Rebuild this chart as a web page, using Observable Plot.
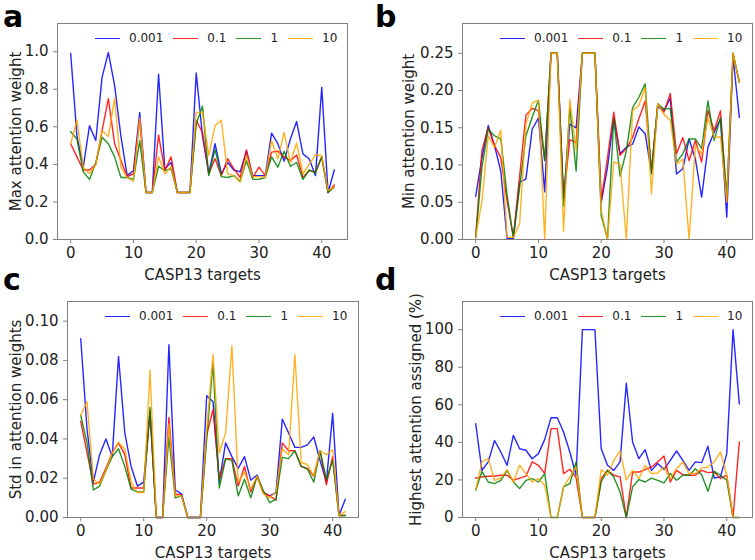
<!DOCTYPE html>
<html>
<head>
<meta charset="utf-8">
<script src="https://cdn.jsdelivr.net/npm/d3@7"></script>
<script src="https://cdn.jsdelivr.net/npm/@observablehq/plot@0.6"></script>
<style>
  body { margin: 0; background: #fff; }
  #fig { position: relative; width: 755px; height: 560px; background: #fff; overflow: hidden;
         font-family: "DejaVu Sans", sans-serif; }
  .panel { position: absolute; }
  .letter { position: absolute; font-weight: bold; font-size: 30px; line-height: 1; color: #000; }
  .legend { position: absolute; display: flex; align-items: center; height: 16px;
            font-size: 12px; color: #222; white-space: nowrap; }
  .legend .sw { display: inline-block; width: 25px; height: 0; border-top: 1.5px solid; margin-right: 9px; opacity: 0.85; }
  .legend .lab { margin-right: 10px; }
</style>
</head>
<body>
<div id="fig"></div>
<script>
// ---- categories / ticks ----
const targets = [0,1,2,3,4,5,6,7,8,9,10,11,12,13,14,15,16,17,18,19,20,21,22,23,24,25,26,27,28,29,30,31,32,33,34,35,36,37,38,39,40,41,42];
const xTicks = [0, 10, 20, 30, 40];
const seriesNames = ["0.001", "0.1", "1", "10"];
const seriesColors = ["blue", "red", "green", "orange"];

// ---- a: Max attention weight ----
const maxW_0001 = [0.99,0.55,0.385,0.606,0.527,0.863,0.996,0.82,0.55,0.34,0.367,0.677,0.25,0.25,0.88,0.376,0.41,0.25,0.25,0.25,0.887,0.55,0.35,0.51,0.35,0.41,0.37,0.36,0.47,0.34,0.34,0.34,0.566,0.51,0.417,0.535,0.628,0.456,0.43,0.34,0.81,0.25,0.37];
const maxW_01 = [0.51,0.44,0.37,0.37,0.40,0.58,0.75,0.51,0.42,0.335,0.35,0.64,0.25,0.25,0.557,0.367,0.44,0.25,0.25,0.25,0.633,0.57,0.35,0.43,0.34,0.43,0.376,0.33,0.477,0.33,0.385,0.34,0.465,0.47,0.44,0.42,0.45,0.33,0.367,0.36,0.44,0.25,0.29];
const maxW_1 = [0.574,0.535,0.36,0.32,0.41,0.544,0.51,0.44,0.33,0.33,0.32,0.527,0.25,0.25,0.39,0.367,0.376,0.25,0.25,0.25,0.615,0.71,0.34,0.48,0.335,0.33,0.34,0.31,0.42,0.32,0.32,0.33,0.44,0.385,0.47,0.39,0.41,0.32,0.37,0.355,0.44,0.25,0.28];
const maxW_10 = [0.51,0.636,0.385,0.35,0.40,0.58,0.548,0.753,0.385,0.33,0.31,0.647,0.25,0.25,0.44,0.35,0.39,0.25,0.25,0.25,0.677,0.677,0.447,0.606,0.636,0.35,0.34,0.305,0.447,0.335,0.335,0.33,0.527,0.43,0.57,0.41,0.514,0.35,0.40,0.45,0.447,0.26,0.28];

// ---- b: Min attention weight ----
const minW_0001 = [0.058,0.11,0.153,0.126,0.092,0.001,0.001,0.077,0.081,0.148,0.163,0.064,0.25,0.25,0.055,0.155,0.15,0.25,0.25,0.25,0.05,0.097,0.164,0.115,0.124,0.128,0.151,0.142,0.09,0.178,0.173,0.19,0.088,0.095,0.135,0.108,0.057,0.124,0.144,0.162,0.03,0.245,0.164];
const minW_01 = [0.003,0.12,0.15,0.126,0.11,0.052,0.003,0.085,0.167,0.176,0.173,0.106,0.25,0.25,0.055,0.134,0.13,0.25,0.25,0.25,0.052,0.11,0.171,0.113,0.122,0.137,0.162,0.186,0.092,0.182,0.171,0.196,0.115,0.137,0.106,0.133,0.104,0.173,0.146,0.173,0.052,0.25,0.211];
const minW_1 = [0.002,0.097,0.148,0.139,0.135,0.06,0.002,0.07,0.139,0.164,0.187,0.106,0.25,0.25,0.045,0.178,0.092,0.25,0.25,0.25,0.032,0.001,0.162,0.085,0.119,0.177,0.191,0.209,0.088,0.182,0.175,0.176,0.104,0.115,0.135,0.135,0.122,0.186,0.133,0.164,0.057,0.25,0.211];
const minW_10 = [0.003,0.052,0.139,0.124,0.147,0.003,0.003,0.021,0.155,0.183,0.187,0.0,0.25,0.25,0.011,0.188,0.12,0.25,0.25,0.25,0.039,0.0,0.104,0.101,0.0,0.173,0.18,0.204,0.061,0.182,0.168,0.16,0.101,0.108,0.0,0.126,0.115,0.164,0.137,0.138,0.05,0.25,0.211];

// ---- c: Std in attention weights ----
const stdW_0001 = [0.091,0.045,0.018,0.032,0.04,0.031,0.082,0.043,0.026,0.016,0.018,0.054,0,0,0.088,0.014,0.012,0,0,0,0.062,0.059,0.018,0.038,0.031,0.025,0.031,0.019,0.0216,0.0127,0.011,0.0127,0.050,0.043,0.0357,0.0357,0.037,0.041,0.029,0.018,0.053,0.001,0.0093];
const stdW_01 = [0.049,0.033,0.017,0.018,0.025,0.033,0.038,0.032,0.015,0.015,0.015,0.054,0,0,0.051,0.012,0.0115,0,0,0,0.042,0.055,0.0195,0.03,0.03,0.016,0.026,0.013,0.021,0.0127,0.011,0.0088,0.038,0.034,0.034,0.026,0.025,0.021,0.034,0.0167,0.031,0.001,0.001];
const stdW_1 = [0.052,0.038,0.014,0.016,0.024,0.031,0.035,0.026,0.0145,0.013,0.013,0.056,0,0,0.041,0.01,0.011,0,0,0,0.04,0.079,0.015,0.03,0.029,0.011,0.0195,0.010,0.021,0.0136,0.0076,0.0093,0.0306,0.030,0.034,0.026,0.0246,0.018,0.034,0.0195,0.029,0.001,0.001];
const stdW_10 = [0.052,0.059,0.0195,0.017,0.024,0.033,0.038,0.035,0.018,0.0127,0.0127,0.075,0,0,0.0476,0.011,0.011,0,0,0,0.045,0.083,0.033,0.043,0.0875,0.018,0.023,0.0145,0.021,0.012,0.010,0.013,0.035,0.032,0.083,0.028,0.027,0.021,0.034,0.032,0.0345,0.001,0.003];

// ---- d: Highest attention assigned (%) ----
const top_0001 = [49.9,25.1,29.6,41,34.9,27.8,43.7,36.6,35.8,31.3,34,41.6,53.1,53.1,45.5,34.9,22.5,100,100,100,36.6,27.8,25.1,29.6,71.5,40.2,31.3,36.1,25.1,28.7,25.5,30.4,35.4,30.4,25.1,29.6,29.2,37.9,21,21.6,34,100,60.5];
const top_01 = [21,21.6,22,22.1,22.5,22.5,19.8,21,22,29.6,27.8,23.4,47.3,47.3,23.4,25.7,21.2,0,0,0,20.7,25.1,22.5,21.6,0,24.2,24.2,25.5,26.9,29.6,32.7,18.9,25.1,22.8,22.5,22.5,25.1,23.9,24.2,20.7,22.5,0,40.2];
const top_1 = [14.5,24.6,18.9,18,19.8,25.1,18.9,15.4,19.8,20.7,18.9,23.4,0,0,16.3,18,29.6,0,0,0,18.9,25.1,21.6,13.6,0,16.3,20.2,18.9,21,19.8,18.4,23.4,19.8,22.5,22.5,26,22.8,14,24.6,22.5,19.8,0,0];
const top_10 = [15,29.6,31.3,19.8,21,25.5,18.9,27.8,23.4,18.9,20.7,17.2,0,0,16.3,21.6,26.9,0,0,0,25.5,22.5,30.4,35.4,20,25.1,20.7,27.8,23.4,23.7,26.9,20.7,26,29.6,23.4,23.4,26.4,26.9,29.6,34.9,22.5,0,0];

const yTicksA = [0, 0.2, 0.4, 0.6, 0.8, 1.0];
const yTicksB = [0, 0.05, 0.10, 0.15, 0.20, 0.25];
const yTicksC = [0, 0.02, 0.04, 0.06, 0.08, 0.10];
const yTicksD = [0, 20, 40, 60, 80, 100];

const panels = [
  {letter: "a", series: [maxW_0001, maxW_01, maxW_1, maxW_10], yDomain: [0, 1.15], yTicks: yTicksA, yFormat: ".1f",
   yLabel: "Max attention weight", left: 0, top: 0, w: 377, h: 280, ml: 57, mr: 30, mt: 23, mb: 41, lo: 47,
   letterX: 3, letterY: 2},
  {letter: "b", series: [minW_0001, minW_01, minW_1, minW_10], yDomain: [0, 0.29], yTicks: yTicksB, yFormat: ".2f",
   yLabel: "Min attention weight", left: 377, top: 0, w: 378, h: 280, ml: 85, mr: 3, mt: 23, mb: 41, lo: 59,
   letterX: 375, letterY: 2},
  {letter: "c", series: [stdW_0001, stdW_01, stdW_1, stdW_10], yDomain: [0, 0.11], yTicks: yTicksC, yFormat: ".2f",
   yLabel: "Std in attention weights", left: 0, top: 280, w: 377, h: 280, ml: 67, mr: 19, mt: 21, mb: 43, lo: 57,
   letterX: 3, letterY: 265},
  {letter: "d", series: [top_0001, top_01, top_1, top_10], yDomain: [0, 115], yTicks: yTicksD, yFormat: "d",
   yLabel: "Highest attention assigned (%)", left: 377, top: 280, w: 378, h: 280, ml: 85, mr: 3, mt: 21, mb: 43, lo: 52,
   letterX: 375, letterY: 265}
];

const fig = document.getElementById("fig");

for (const p of panels) {
  const rows = [];
  p.series.forEach((vals, k) => vals.forEach((v, i) => rows.push({target: targets[i], value: v, series: seriesNames[k]})));
  const svg = Plot.plot({
    width: p.w, height: p.h,
    marginLeft: p.ml, marginRight: p.mr, marginTop: p.mt, marginBottom: p.mb,
    style: {fontFamily: "'DejaVu Sans', sans-serif", fontSize: "15px", color: "#222", background: "transparent", overflow: "visible"},
    x: {domain: [-2.1, 44.1]},
    y: {domain: p.yDomain},
    color: {domain: seriesNames, range: seriesColors},
    marks: [
      ...seriesNames.map(name => Plot.line(rows.filter(r => r.series === name),
        {x: "target", y: "value", stroke: "series", strokeWidth: 1.4, strokeOpacity: 0.85})),
      Plot.frame({stroke: "#808080"}),
      Plot.axisX({ticks: xTicks, tickFormat: d3.format("d"), tickSize: 4, tickPadding: 4, stroke: "#808080",
        label: "CASP13 targets", labelAnchor: "center", labelArrow: "none", labelOffset: 40}),
      Plot.axisY({ticks: p.yTicks, tickFormat: d3.format(p.yFormat), tickSize: 4, tickPadding: 5, stroke: "#808080",
        label: p.yLabel, labelAnchor: "center", labelArrow: "none", labelOffset: p.lo})
    ]
  });
  svg.classList.add("panel");
  svg.style.left = p.left + "px";
  svg.style.top = p.top + "px";
  fig.appendChild(svg);

  // legend inside the frame, upper area
  const leg = document.createElement("div");
  leg.className = "legend";
  leg.style.left = (p.left + p.ml + 38) + "px";
  leg.style.top = (p.top + p.mt + 15 - 8) + "px";
  seriesNames.forEach((name, k) => {
    const sw = document.createElement("span");
    sw.className = "sw";
    sw.style.borderTopColor = seriesColors[k];
    const lab = document.createElement("span");
    lab.className = "lab";
    lab.textContent = name;
    leg.appendChild(sw);
    leg.appendChild(lab);
  });
  fig.appendChild(leg);

  const letter = document.createElement("div");
  letter.className = "letter";
  letter.textContent = p.letter;
  letter.style.left = p.letterX + "px";
  letter.style.top = p.letterY + "px";
  fig.appendChild(letter);
}
</script>
</body>
</html>
